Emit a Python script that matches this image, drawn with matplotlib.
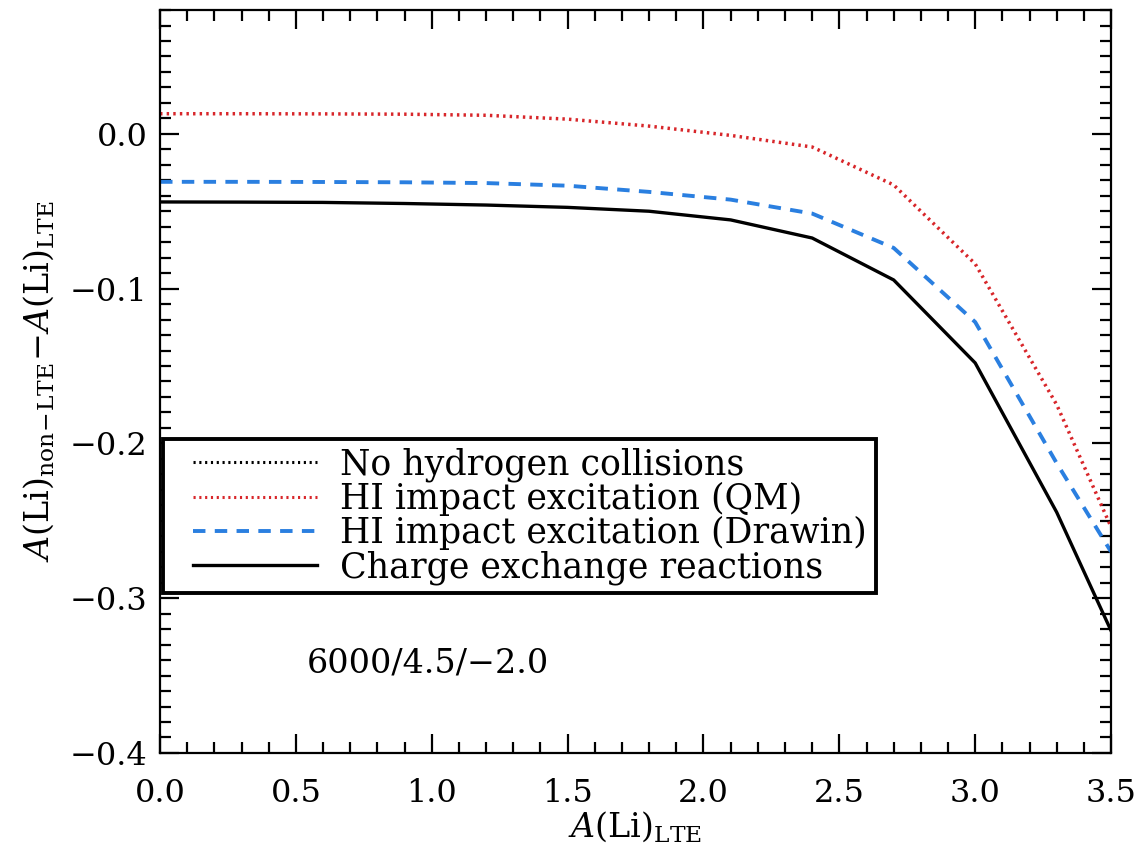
import matplotlib
matplotlib.use("Agg")
import matplotlib.pyplot as plt
from matplotlib.lines import Line2D
from matplotlib.legend_handler import HandlerLine2D
from matplotlib.ticker import MultipleLocator, FuncFormatter

# ---- data ----
a_li_lte = [0.0, 0.3, 0.6, 0.9, 1.2, 1.5, 1.8, 2.1, 2.4, 2.7, 3.0, 3.3, 3.5]
hi_qm = [0.0130, 0.0130, 0.0129, 0.0127, 0.0120, 0.0095, 0.0050, -0.0010,
         -0.0085, -0.0330, -0.0840, -0.1750, -0.2540]
hi_drawin = [-0.0310, -0.0310, -0.0311, -0.0313, -0.0318, -0.0335, -0.0375,
             -0.0425, -0.0515, -0.0737, -0.1216, -0.2128, -0.2700]
charge_exchange = [-0.0440, -0.0441, -0.0443, -0.0450, -0.0460, -0.0475,
                   -0.0500, -0.0556, -0.0673, -0.0944, -0.1480, -0.2445, -0.3210]
legend_labels = ["No hydrogen collisions", "HI impact excitation (QM)",
                 "HI impact excitation (Drawin)", "Charge exchange reactions"]
model_label = "6000/4.5/\u22122.0"

SERIF = "DejaVu Serif"
plt.rcParams["font.family"] = [SERIF, "Liberation Serif"]
plt.rcParams["mathtext.fontset"] = "custom"
plt.rcParams["mathtext.rm"] = SERIF
plt.rcParams["mathtext.it"] = SERIF + ":italic"
plt.rcParams["mathtext.bf"] = SERIF + ":bold"

FS = 23
LFS = 24
GFS = 25
fig = plt.figure(figsize=(11.4, 8.57), dpi=100)
ax = fig.add_axes([0.1404, 0.1214, 0.8342, 0.8669])

red = "#d8262a"
blue = "#2a7fe0"
dot = (0, (0.7, 1.2))
dash = (0, (3.2, 2.4))

ax.plot(a_li_lte, hi_qm, color=red, lw=2.5, linestyle=dot)
ax.plot(a_li_lte, hi_drawin, color=blue, lw=2.8, linestyle=dash)
ax.plot(a_li_lte, charge_exchange, color="black", lw=2.4, linestyle="-")

ax.set_xlim(0.0, 3.5)
ax.set_ylim(-0.4, 0.08)

ax.xaxis.set_major_locator(MultipleLocator(0.5))
ax.xaxis.set_minor_locator(MultipleLocator(0.1))
ax.yaxis.set_major_locator(MultipleLocator(0.1))
ax.yaxis.set_minor_locator(MultipleLocator(0.01))
fmt = FuncFormatter(lambda v, p: ("%.1f" % v).replace("-", "\u2212") if abs(v) > 1e-9 else "0.0")
ax.xaxis.set_major_formatter(fmt)
ax.yaxis.set_major_formatter(fmt)
ax.tick_params(which="both", direction="in", top=True, right=True, width=1.6, labelsize=FS)
ax.tick_params(which="major", length=14)
ax.tick_params(which="minor", length=8)
ax.tick_params(axis="x", which="major", pad=18)
ax.tick_params(axis="y", which="major", pad=9)
for s in ax.spines.values():
    s.set_linewidth(1.6)

ax.set_xlabel(r"$A(\mathrm{Li})_{\mathrm{LTE}}$", fontsize=LFS, labelpad=0)
ax.set_ylabel(r"$A(\mathrm{Li})_{\mathrm{non\!-\!LTE}}\!-\!A(\mathrm{Li})_{\mathrm{LTE}}$",
              fontsize=LFS, labelpad=10)

handles = [
    Line2D([], [], color="black", lw=2.2, linestyle=dot),
    Line2D([], [], color=red, lw=2.2, linestyle=dot),
    Line2D([], [], color=blue, lw=2.8, linestyle=dash),
    Line2D([], [], color="black", lw=2.4, linestyle="-"),
]
leg = ax.legend(handles, legend_labels, loc="lower left", bbox_to_anchor=(0.003, 0.215),
                fontsize=GFS, frameon=True, fancybox=False, framealpha=1,
                edgecolor="black", handlelength=4.2, handletextpad=0.66,
                labelspacing=0.0, borderpad=0.25, borderaxespad=0.0,
                handler_map={Line2D: HandlerLine2D(xpad=0.63)})
leg.get_frame().set_linewidth(2.8)

ax.text(0.54, -0.342, model_label, fontsize=LFS, ha="left", va="center")

fig.savefig("out.png", dpi=100)
